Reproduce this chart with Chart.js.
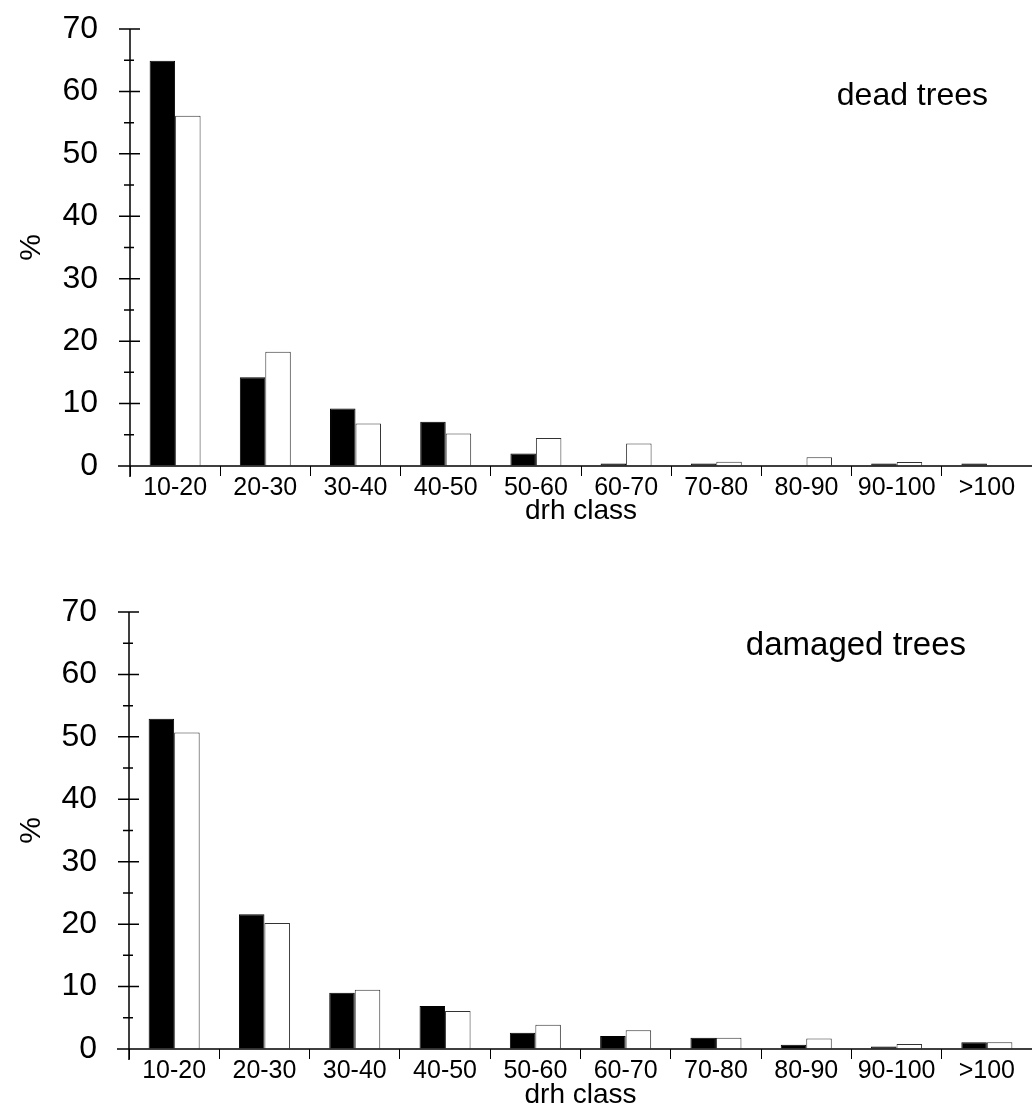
<!DOCTYPE html>
<html>
<head>
<meta charset="utf-8">
<script src="https://cdn.jsdelivr.net/npm/chart.js@4"></script>
<style>
    html, body { margin: 0; padding: 0; background: #fff; }
    #page { position: relative; width: 1032px; height: 1111px; overflow: hidden; }
    #deadWrap { position: absolute; left: 0; top: 0; }
    #damagedWrap { position: absolute; left: 0; top: 555px; }
</style>
</head>
<body>
<div id="page">
    <div id="deadWrap"><canvas id="deadChart" width="1032" height="555"></canvas></div>
    <div id="damagedWrap"><canvas id="damagedChart" width="1032" height="556"></canvas></div>
</div>
<script>
// --- Data ---
const drhClasses = ['10-20', '20-30', '30-40', '40-50', '50-60', '60-70', '70-80', '80-90', '90-100', '>100'];

const deadBlack = [64.9, 14.2, 9.2, 7.1, 2.0, 0.4, 0.4, 0, 0.4, 0.4];
const deadWhite = [56.1, 18.3, 6.8, 5.2, 4.5, 3.6, 0.7, 1.4, 0.65, 0];

const damagedBlack = [52.9, 21.6, 9.0, 6.9, 2.6, 2.1, 1.8, 0.7, 0.4, 1.1];
const damagedWhite = [50.7, 20.2, 9.5, 6.1, 3.9, 3.0, 1.8, 1.7, 0.8, 1.1];

const yMin = 0;
const yMax = 70;
const yStep = 10;

const FONT = "'Liberation Sans', Arial, sans-serif";

document.addEventListener('DOMContentLoaded', function() {

    Chart.defaults.color = '#000';
    Chart.defaults.font.family = FONT;

    // --- Axis crosses, minor ticks and the panel caption ---
    const axisMarks = {
        id: 'axisMarks',
        afterDraw(chart, args, opts) {
            const ctx = chart.ctx;
            const area = chart.chartArea;
            const y = chart.scales.y;

            ctx.save();
            ctx.strokeStyle = '#000';
            ctx.lineWidth = 1.5;
            ctx.beginPath();
            ctx.moveTo(area.left, y.getPixelForValue(yMax));
            ctx.lineTo(area.left, area.bottom + 11);
            ctx.moveTo(area.left - 12, area.bottom);
            ctx.lineTo(area.right, area.bottom);
            for (let v = yMin; v <= yMax; v += yStep / 2) {
                const py = y.getPixelForValue(v);
                const major = v % yStep === 0;
                ctx.moveTo(area.left - (major ? 11 : 6), py);
                ctx.lineTo(area.left + (major ? 10 : 4), py);
            }
            ctx.stroke();

            ctx.fillStyle = '#000';
            ctx.font = opts.size + 'px ' + FONT;
            ctx.textAlign = 'right';
            ctx.textBaseline = 'middle';
            ctx.fillText(opts.label, opts.x, opts.y);
            ctx.restore();
        }
    };

    function makeConfig(black, white, caption, axisTop, xHeight, yWidth, titlePad) {
        return {
            type: 'bar',
            data: {
                labels: drhClasses,
                datasets: [{
                    label: 'black',
                    data: black,
                    backgroundColor: '#000',
                    borderColor: '#000',
                    borderWidth: 1
                }, {
                    label: 'white',
                    data: white,
                    backgroundColor: '#fff',
                    borderColor: '#333',
                    borderWidth: 1
                }]
            },
            options: {
                responsive: false,
                animation: false,
                layout: { padding: { top: axisTop, right: 0, left: 0, bottom: 0 } },
                datasets: {
                    bar: { categoryPercentage: 0.565, barPercentage: 1 }
                },
                plugins: {
                    legend: { display: false },
                    tooltip: { enabled: false },
                    axisMarks: caption
                },
                scales: {
                    x: {
                        border: { display: false },
                        grid: {
                            display: true,
                            drawOnChartArea: false,
                            drawTicks: true,
                            tickLength: 10,
                            color: '#000',
                            lineWidth: 1
                        },
                        ticks: {
                            padding: 0,
                            autoSkip: false,
                            maxRotation: 0,
                            font: { size: 25, lineHeight: 1 }
                        },
                        title: {
                            display: true,
                            text: 'drh class',
                            font: { size: 28, lineHeight: 1 },
                            padding: { top: 0, bottom: titlePad }
                        },
                        afterFit: function(scale) { scale.height = xHeight; }
                    },
                    y: {
                        min: yMin,
                        max: yMax,
                        border: { display: false },
                        // invisible tick marks only push the labels away from the axis
                        grid: {
                            display: true,
                            drawOnChartArea: false,
                            drawTicks: true,
                            tickLength: 32,
                            color: 'rgba(0,0,0,0)',
                            tickColor: 'rgba(0,0,0,0)'
                        },
                        ticks: {
                            stepSize: yStep,
                            padding: 0,
                            font: { size: 32, lineHeight: 1 }
                        },
                        title: {
                            display: true,
                            text: '%',
                            font: { size: 30, lineHeight: 1 },
                            padding: { top: 17, bottom: 0 }
                        },
                        afterFit: function(scale) { scale.width = yWidth; }
                    }
                }
            },
            plugins: [axisMarks]
        };
    }

    // --- Dead trees panel ---
    const deadCtx = document.getElementById('deadChart');
    if (deadCtx) {
        new Chart(deadCtx.getContext('2d'), makeConfig(
            deadBlack, deadWhite,
            { label: 'dead trees', size: 32, x: 988, y: 96 },
            29, 89, 130, 30
        ));
    }

    // --- Damaged trees panel ---
    const damagedCtx = document.getElementById('damagedChart');
    if (damagedCtx) {
        new Chart(damagedCtx.getContext('2d'), makeConfig(
            damagedBlack, damagedWhite,
            { label: 'damaged trees', size: 33, x: 966, y: 91 },
            57, 62, 129, 2
        ));
    }

});
</script>
</body>
</html>
